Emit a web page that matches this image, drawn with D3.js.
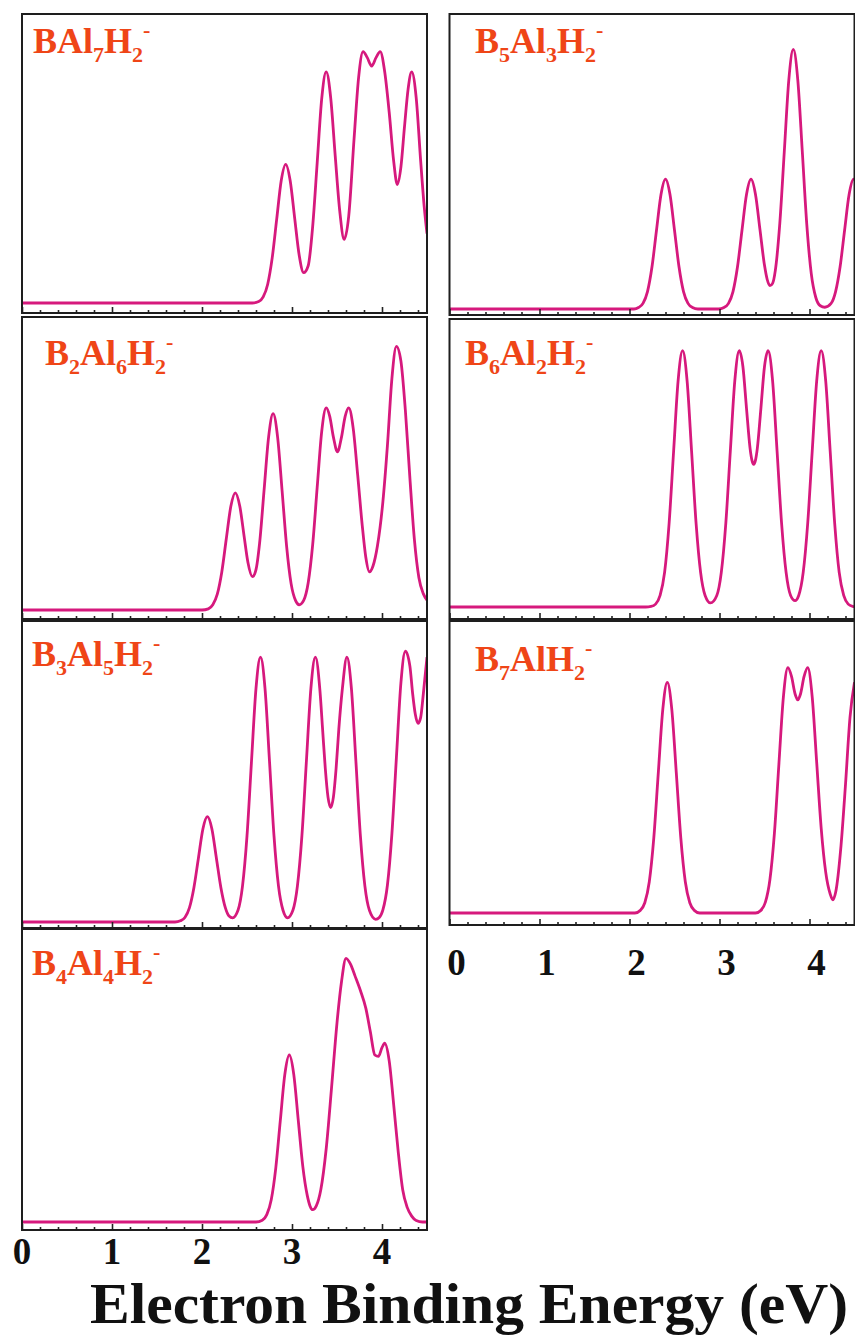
<!DOCTYPE html>
<html>
<head>
<meta charset="utf-8">
<script src="https://cdn.jsdelivr.net/npm/d3@7"></script>
<style>
  body { margin: 0; background: #fff; }
</style>
</head>
<body>
<div id="chart"></div>
<script>
"use strict";

// simulated PES spectra, [binding energy (eV), relative intensity (% of panel height)]
var bal7h2 = [[0,0],[2.56,0],[2.63,0.5],[2.68,2.1],[2.73,6.5],[2.78,15.6],[2.83,29],[2.88,42.3],[2.93,48],[2.98,42.3],[3.03,29.3],[3.08,16.5],[3.13,10.5],[3.18,12.9],[3.23,26.6],[3.28,48.6],[3.33,70.6],[3.38,80],[3.43,71],[3.48,51],[3.53,32],[3.58,22],[3.63,30],[3.69,57],[3.74,78],[3.79,87],[3.835,85],[3.885,82],[3.935,85],[3.98,87],[4.03,80],[4.08,66],[4.13,49],[4.17,41],[4.21,47],[4.25,61],[4.29,74],[4.33,80],[4.38,71],[4.43,49],[4.47,33],[4.5,24]];
var b2al6h2 = [[0,0],[2.0,0],[2.07,0.4],[2.12,1.8],[2.17,5.4],[2.22,13],[2.27,24.3],[2.32,35.3],[2.37,40],[2.42,35.4],[2.47,24.7],[2.51,16.3],[2.56,11.4],[2.60,13.8],[2.64,22.8],[2.69,41],[2.74,59],[2.79,67],[2.84,59],[2.89,40.7],[2.94,21.8],[2.99,9],[3.04,3.2],[3.08,1.8],[3.13,3.3],[3.18,9.3],[3.23,22.4],[3.28,41.9],[3.33,60.9],[3.38,69],[3.42,66],[3.46,59],[3.505,54],[3.55,59],[3.59,66],[3.63,69],[3.68,62],[3.73,46],[3.78,29],[3.82,18],[3.86,13],[3.90,15],[3.95,22],[4.01,37],[4.06,56],[4.11,79],[4.16,90],[4.21,85],[4.26,68],[4.31,45],[4.36,24],[4.41,11],[4.46,5.5],[4.5,3.4]];
var b3al5h2 = [[0,0],[1.70,0],[1.76,0.4],[1.81,1.5],[1.86,4.7],[1.91,11.4],[1.96,21.2],[2.01,30.9],[2.06,35],[2.11,30.9],[2.16,21.2],[2.21,11.4],[2.26,4.7],[2.30,2],[2.34,1.4],[2.40,3.9],[2.45,11.9],[2.50,28.6],[2.55,53.4],[2.60,77.6],[2.65,88],[2.70,77.6],[2.75,53.4],[2.80,28.6],[2.85,11.9],[2.90,3.9],[2.95,1.4],[3.01,3.9],[3.06,11.9],[3.11,28.6],[3.16,53.4],[3.21,77.6],[3.26,88],[3.31,77],[3.34,64],[3.37,51],[3.40,41.5],[3.43,38],[3.46,41.5],[3.49,51],[3.52,64],[3.56,77.6],[3.61,88],[3.66,77.6],[3.71,53.4],[3.76,28.6],[3.81,11.9],[3.86,3.9],[3.93,0.9],[3.97,1.5],[4.01,4],[4.06,12.2],[4.11,29.3],[4.16,54.6],[4.21,79.4],[4.26,90],[4.31,85],[4.34,76],[4.37,69],[4.40,66],[4.43,68],[4.46,76],[4.5,88]];
var b4al4h2 = [[0,0],[2.60,0],[2.67,0.6],[2.72,2.5],[2.77,7.7],[2.82,18.5],[2.87,34.6],[2.92,50.3],[2.97,57],[3.02,50.3],[3.07,34.6],[3.12,19],[3.17,9],[3.20,5.5],[3.23,4.2],[3.27,5.5],[3.32,11],[3.38,25],[3.44,46],[3.50,68],[3.55,82],[3.60,90],[3.65,88],[3.70,84],[3.76,79],[3.82,73],[3.87,65],[3.92,57],[3.96,56.5],[4.00,59.5],[4.03,61],[4.08,55],[4.13,40],[4.18,24],[4.23,11],[4.28,5],[4.33,2],[4.38,0.5],[4.45,0],[4.5,0]];
var b5al3h2 = [[0,0],[2.05,0],[2.10,0.5],[2.15,1.9],[2.20,5.9],[2.25,14.3],[2.30,26.7],[2.35,38.8],[2.40,44],[2.45,38.8],[2.50,26.7],[2.55,14.3],[2.60,5.9],[2.65,1.9],[2.70,0.5],[2.76,0],[2.99,0],[3.05,0.5],[3.10,1.9],[3.15,5.9],[3.20,14.3],[3.25,26.7],[3.30,38.8],[3.35,44],[3.40,38.8],[3.45,26.8],[3.50,14.8],[3.53,10],[3.56,7.9],[3.59,8.7],[3.62,13],[3.67,29],[3.72,53.4],[3.77,77.6],[3.82,88],[3.87,77.6],[3.92,53.4],[3.97,28.6],[4.02,11.9],[4.07,3.9],[4.12,1.1],[4.17,0.6],[4.24,1.9],[4.29,5.9],[4.34,14.3],[4.39,26.7],[4.44,38.8],[4.49,44],[4.5,43.8]];
var b6al2h2 = [[0,0],[2.18,0],[2.24,0.2],[2.29,1],[2.34,4],[2.39,12],[2.44,29],[2.49,54],[2.54,78.5],[2.59,89],[2.64,78.5],[2.69,54],[2.74,29],[2.79,12],[2.84,4],[2.90,1.4],[2.97,4],[3.02,12],[3.07,29],[3.12,54],[3.17,78.5],[3.22,89],[3.26,83.5],[3.30,69],[3.34,55],[3.36,51],[3.38,49.5],[3.40,51],[3.42,55],[3.46,69],[3.50,83.5],[3.54,89],[3.59,78.5],[3.64,54],[3.69,29],[3.74,12],[3.79,4],[3.84,2.2],[3.88,4],[3.93,12],[3.98,29],[4.03,54],[4.08,78.5],[4.13,89],[4.18,78.5],[4.23,54],[4.28,29],[4.33,12],[4.38,4],[4.43,1],[4.48,0.2],[4.5,0.1]];
var b7alh2 = [[0,0],[2.06,0],[2.12,0.9],[2.17,3.5],[2.22,10.7],[2.27,25.7],[2.32,48],[2.37,69.7],[2.42,79],[2.47,69.7],[2.52,48],[2.57,25.7],[2.62,10.7],[2.67,3.5],[2.72,0.9],[2.78,0],[3.40,0],[3.46,0.9],[3.51,3.7],[3.56,11.4],[3.61,27.3],[3.66,51],[3.71,74],[3.76,84],[3.80,81],[3.84,75],[3.87,73],[3.90,75],[3.94,81],[3.98,84],[4.03,74],[4.08,51.5],[4.13,29],[4.18,14],[4.23,6.5],[4.26,4.5],[4.29,7],[4.35,23],[4.40,44],[4.45,67],[4.5,79]];

// cluster names: _n = subscript, ^- = superscript
var names = ["BAl_7H_2^-", "B_2Al_6H_2^-", "B_3Al_5H_2^-", "B_4Al_4H_2^-",
             "B_5Al_3H_2^-", "B_6Al_2H_2^-", "B_7AlH_2^-"];
var series = [bal7h2, b2al6h2, b3al5h2, b4al4h2, b5al3h2, b6al2h2, b7alh2];

var majorTicks = [0, 1, 2, 3, 4];
var minorTicks = d3.range(0.2, 4.5, 0.2).filter(function (v) { return Math.abs(v - Math.round(v)) > 0.01; });
var xLabel = "Electron Binding Energy (eV)";

// layout
var columns = [{x0: 22, x1: 427}, {x0: 449.5, x1: 854.5}];
var layout = [
    {col: 0, top: 14,  axisY: 313,  base: 303,  lx: 33, ly: 53},
    {col: 0, top: 317, axisY: 619,  base: 610,  lx: 45, ly: 365},
    {col: 0, top: 621, axisY: 928,  base: 922,  lx: 32, ly: 666},
    {col: 0, top: 929, axisY: 1230, base: 1222, lx: 32, ly: 975, tickLabelY: 1264, tickDx: 0},
    {col: 1, top: 14,  axisY: 315,  base: 309,  lx: 475, ly: 53},
    {col: 1, top: 319, axisY: 619,  base: 607,  lx: 465, ly: 365},
    {col: 1, top: 621, axisY: 925,  base: 913,  lx: 475, ly: 671, tickLabelY: 975, tickDx: 7}
];

var lineColor = "#d6197d",
    labelColor = "#ef4517",
    serif = "'Liberation Serif', 'Times New Roman', serif";

var svg = d3.select("#chart").append("svg")
    .attr("width", 855)
    .attr("height", 1337);

var defs = svg.append("defs");

layout.forEach(function (p, i) {
    var col = columns[p.col];
    var x = d3.scaleLinear().domain([0, 4.5]).range([col.x0, col.x1]);
    var y = d3.scaleLinear().domain([0, 100]).range([p.base, p.top]);
    var g = svg.append("g");

    defs.append("clipPath").attr("id", "clip" + i)
        .append("rect")
        .attr("x", col.x0).attr("y", p.top)
        .attr("width", col.x1 - col.x0).attr("height", p.axisY - p.top);

    var line = d3.line()
        .x(function (d) { return x(d[0]); })
        .y(function (d) { return y(d[1]); })
        .curve(d3.curveMonotoneX);

    g.append("path")
        .datum(series[i])
        .attr("clip-path", "url(#clip" + i + ")")
        .attr("d", line)
        .attr("fill", "none")
        .attr("stroke", lineColor)
        .attr("stroke-width", 2.8)
        .attr("stroke-linejoin", "round");

    // ticks pointing into the plot
    var major = d3.axisBottom(x).tickValues(majorTicks).tickSize(-6).tickFormat("");
    var minor = d3.axisBottom(x).tickValues(minorTicks).tickSize(-3).tickFormat("");
    [major, minor].forEach(function (ax) {
        var a = g.append("g").attr("transform", "translate(0," + p.axisY + ")").call(ax);
        a.select(".domain").remove();
        a.selectAll("line").attr("stroke", "#222").attr("stroke-width", 1.6);
    });

    g.append("rect")
        .attr("x", col.x0).attr("y", p.top)
        .attr("width", col.x1 - col.x0).attr("height", p.axisY - p.top)
        .attr("fill", "none")
        .attr("stroke", "#1e1e1e")
        .attr("stroke-width", 2);

    // cluster label
    var txt = g.append("text")
        .attr("x", p.lx).attr("y", p.ly)
        .attr("font-family", serif)
        .attr("font-weight", "bold")
        .attr("font-size", 36)
        .attr("fill", labelColor);
    var shift = 0;
    names[i].match(/_\d+|\^-|[^_^]+/g).forEach(function (tok) {
        var target = 0, size = 36, s = tok;
        if (tok[0] === "_") { target = 9; size = 22; s = tok.slice(1); }
        else if (tok[0] === "^") { target = -16; size = 22; s = "-"; }
        txt.append("tspan")
            .attr("dy", target - shift)
            .attr("font-size", size)
            .text(s);
        shift = target;
    });

    if (p.tickLabelY) {
        g.selectAll("text.tl")
            .data(majorTicks)
            .enter().append("text")
            .attr("class", "tl")
            .attr("x", function (d) { return x(d) + p.tickDx; })
            .attr("y", p.tickLabelY)
            .attr("text-anchor", "middle")
            .attr("font-family", serif)
            .attr("font-weight", "bold")
            .attr("font-size", 37)
            .attr("fill", "#111")
            .text(function (d) { return d; });
    }
});

svg.append("text")
    .attr("x", 90)
    .attr("y", 1323)
    .attr("font-family", serif)
    .attr("font-weight", "bold")
    .attr("font-size", 57)
    .attr("textLength", 758)
    .attr("lengthAdjust", "spacingAndGlyphs")
    .attr("fill", "#111")
    .text(xLabel);
</script>
</body>
</html>
